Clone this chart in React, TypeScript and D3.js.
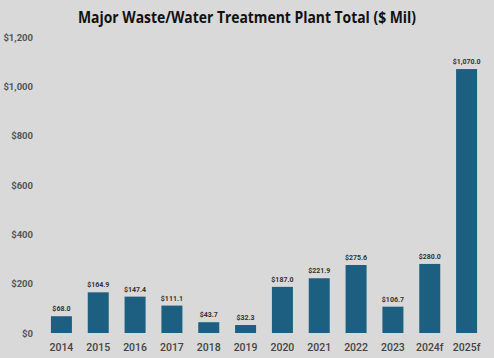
import React, { useEffect, useRef } from 'react';
import * as d3 from 'd3';

const categories = ['2014', '2015', '2016', '2017', '2018', '2019', '2020', '2021', '2022', '2023', '2024f', '2025f'];
const values = [68.0, 164.9, 147.4, 111.1, 43.7, 32.3, 187.0, 221.9, 275.6, 106.7, 280.0, 1070.0];
const yTicks = [0, 200, 400, 600, 800, 1000, 1200];

const App = () => {
  const svgRef = useRef<SVGSVGElement>(null);

  useEffect(() => {
    const width = 494;
    const height = 358;
    const svg = d3.select(svgRef.current).attr('width', width).attr('height', height);
    svg.selectAll('*').remove();

    svg.append('rect').attr('width', width).attr('height', height).attr('fill', '#d9d9d9');

    const x = d3.scaleBand().domain(categories).range([43, 485]).paddingInner(0.43).paddingOuter(0.215);
    const y = d3.scaleLinear().domain([0, 1200]).range([333, 37]);

    // title
    svg
      .append('text')
      .attr('x', 247)
      .attr('y', 23)
      .attr('text-anchor', 'middle')
      .attr('font-family', 'Open Sans')
      .attr('font-weight', 'bold')
      .attr('font-size', 16)
      .attr('textLength', 338)
      .attr('lengthAdjust', 'spacingAndGlyphs')
      .attr('fill', '#111')
      .text('Major Waste/Water Treatment Plant Total ($ Mil)');

    // y axis labels
    svg
      .selectAll('.ytick')
      .data(yTicks)
      .enter()
      .append('text')
      .attr('class', 'ytick')
      .attr('x', 33)
      .attr('y', (d) => y(d) + 3.5)
      .attr('text-anchor', 'end')
      .attr('font-family', 'Roboto')
      .attr('font-weight', 'bold')
      .attr('font-size', 9.5)
      .attr('fill', '#555')
      .text((d) => '$' + d3.format(',')(d));

    // bars
    svg
      .selectAll('.bar')
      .data(values)
      .enter()
      .append('rect')
      .attr('class', 'bar')
      .attr('x', (d, i) => x(categories[i]))
      .attr('y', (d) => y(d))
      .attr('width', x.bandwidth())
      .attr('height', (d) => y(0) - y(d))
      .attr('fill', '#1c5f81');

    // value labels
    svg
      .selectAll('.vlabel')
      .data(values)
      .enter()
      .append('text')
      .attr('class', 'vlabel')
      .attr('x', (d, i) => x(categories[i]) + x.bandwidth() / 2)
      .attr('y', (d) => y(d) - 5)
      .attr('text-anchor', 'middle')
      .attr('font-family', 'Roboto')
      .attr('font-weight', 'bold')
      .attr('font-size', 7)
      .attr('fill', '#333')
      .text((d) => '$' + d3.format(',.1f')(d));

    // x labels
    svg
      .selectAll('.xlabel')
      .data(categories)
      .enter()
      .append('text')
      .attr('class', 'xlabel')
      .attr('x', (d) => x(d) + x.bandwidth() / 2)
      .attr('y', 350.5)
      .attr('text-anchor', 'middle')
      .attr('font-family', 'Roboto')
      .attr('font-weight', 500)
      .attr('font-size', 10.5)
      .attr('fill', '#444')
      .text((d) => d);
  }, []);

  return <svg ref={svgRef} style={{ position: 'absolute', left: 0, top: 0, display: 'block' }} />;
};

export default App;
